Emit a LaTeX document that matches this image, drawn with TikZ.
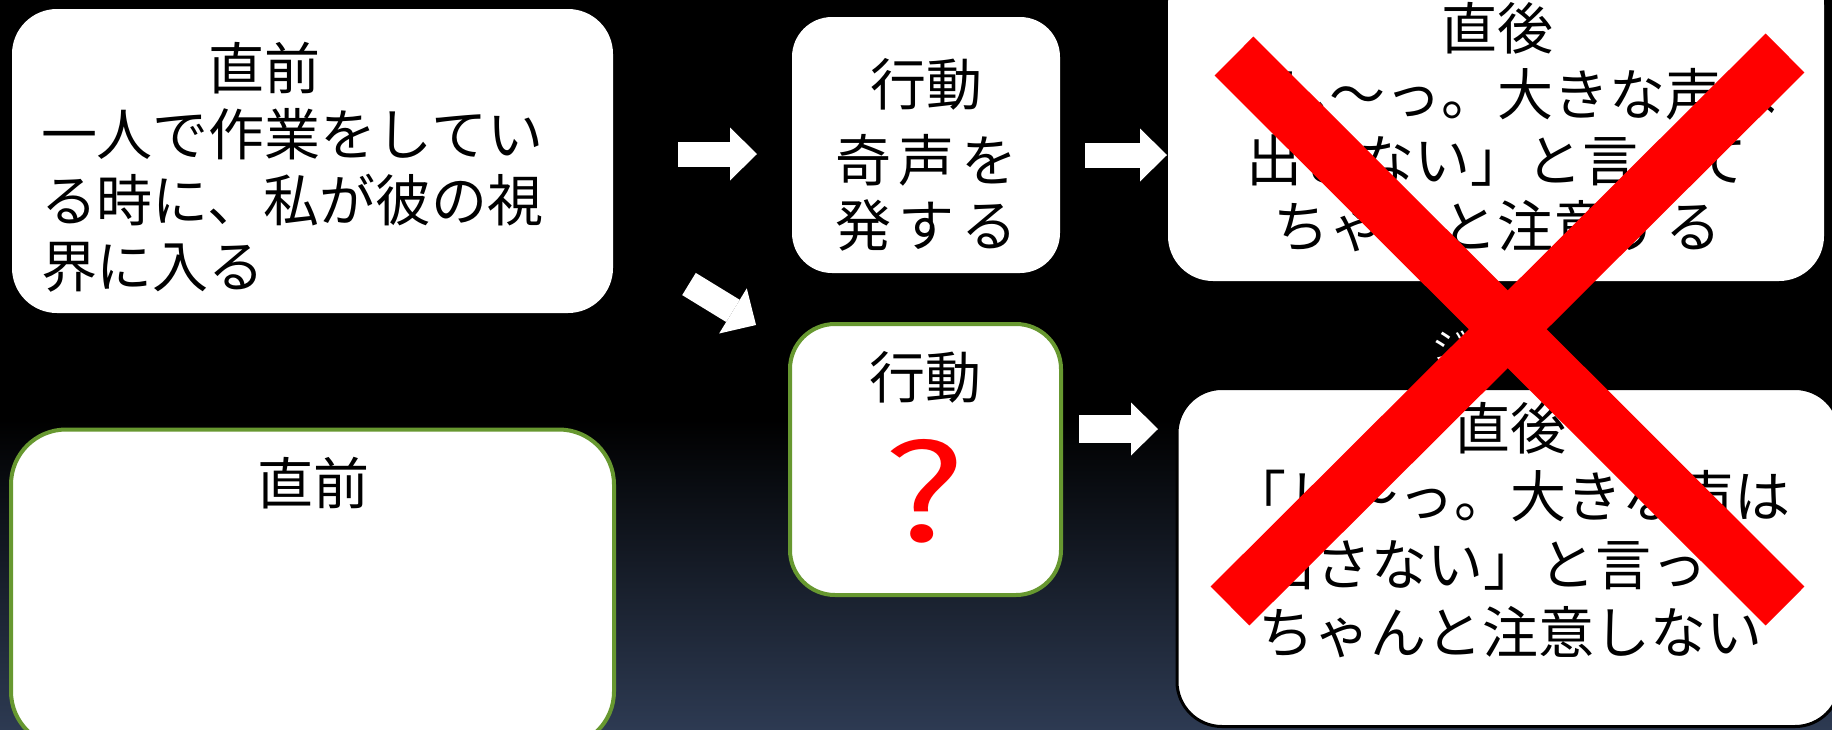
\documentclass[tikz,border=0pt]{standalone}
\usepackage{fontspec}
\newfontfamily\jp{Noto Sans CJK JP}
\usetikzlibrary{arrows.meta}
\definecolor{boxgreen}{RGB}{103,152,48}
\definecolor{bgblue}{RGB}{45,58,82}
\definecolor{xred}{RGB}{255,0,0}
\begin{document}
\begin{tikzpicture}[x=1pt,y=-1pt,
  card/.style={rectangle, rounded corners=#1, fill=white, inner sep=0pt, outer sep=0pt},
  jt/.style={font=\jp\fontsize{56}{66}\selectfont, inner sep=0pt, outer sep=0pt, text=black},
  jtb/.style={font=\jp\fontsize{56}{68}\selectfont, inner sep=0pt, outer sep=0pt, text=black},
  jta/.style={font=\jp\fontsize{56}{65}\selectfont, inner sep=0pt, outer sep=0pt, text=black},
  blockarrow/.style={draw=white, line width=#1, line cap=butt, -{Triangle[length=27pt,width=53pt,line width=0pt]}},
  xline/.style={draw=xred, line width=55pt, line cap=butt}]
\useasboundingbox (0,0) rectangle (1832,729);
\clip (0,0) rectangle (1832,729);
% background
\fill[black] (0,0) rectangle (1832,729);
\shade[top color=black, bottom color=bgblue] (0,420) rectangle (1832,729);
% boxes
\node[card=45pt, minimum width=601pt, minimum height=304pt] (lt) at (312.5,161) {};
\node[card=40pt, minimum width=268pt, minimum height=256pt] (at) at (926,145) {};
\node[card=45pt, minimum width=656pt, minimum height=321pt] (ar) at (1496,120.5) {};
\node[card=45pt, draw=boxgreen, line width=4pt, minimum width=271pt, minimum height=271pt] (mid) at (925.5,459.5) {};
\node[card=55pt, draw=boxgreen, line width=4pt, minimum width=603pt, minimum height=317pt] (lb) at (312.5,588) {};
\node[card=45pt, draw=black, line width=3pt, minimum width=663pt, minimum height=338pt] (br) at (1508.5,557.5) {};
% texts (base anchor = baseline of the last line)
\node[jt, align=left, anchor=base west] (ltt) at (41,287) {\hspace*{3em}直前\\一人で作業をしてい\\る時に、私が彼の視\\界に入る};
\node[jta, align=center, anchor=base] (att) at (926,246) {行動\\[11pt]奇\hspace{7pt}声\hspace{7pt}を\\発\hspace{7pt}す\hspace{7pt}る};
\node[jt, align=center, anchor=base] (art) at (1497,247) {直後\\「し〜っ。大きな声は\\出さない」と言って\\ちゃんと注意する};
\node[jt, anchor=base] (midt) at (925,398) {行動};
\node[font=\jp\fontsize{134}{134}\selectfont, text=xred, inner sep=0pt, anchor=base, xscale=1.3] (q) at (925,541) {?};
\node[jt, anchor=base] (lbt) at (313,504) {直前};
\node[jtb, align=center, anchor=base] (brt) at (1510,653) {直後\\「し〜っ。大きな声は\\出さない」と言って\\ちゃんと注意しない};
\node[font=\jp\fontsize{36}{36}\selectfont, text=white, inner sep=0pt, anchor=base] (hid) at (1450,359) {ジ};
% arrows
\coordinate (a1s) at (678,154); \coordinate (a1e) at (757,154);
\coordinate (a2s) at (1085,155); \coordinate (a2e) at (1167,155);
\coordinate (a3s) at (1079,429); \coordinate (a3e) at (1158,429);
\coordinate (a4s) at (689,284); \coordinate (a4e) at (756,325);
\draw[blockarrow=25pt] (a1s) -- (a1e);
\draw[blockarrow=25pt] (a2s) -- (a2e);
\draw[blockarrow=28pt] (a3s) -- (a3e);
\draw[blockarrow=26pt] (a4s) -- (a4e);
% red cross
\draw[xline] (1234,56) -- (1785,606);
\draw[xline] (1785,53) -- (1230,606);
\end{tikzpicture}
\end{document}
